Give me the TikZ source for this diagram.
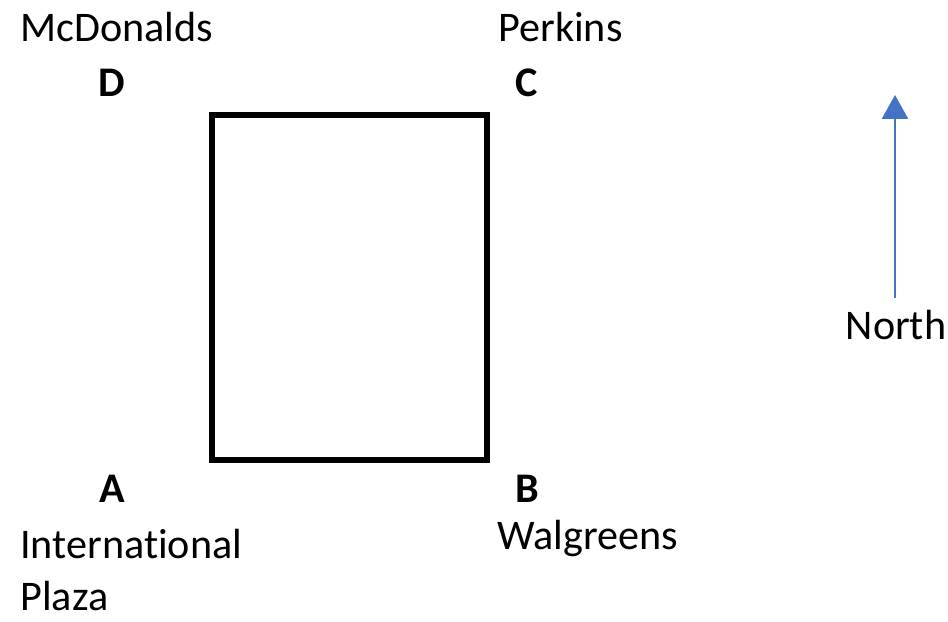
\documentclass[tikz,border=0pt]{standalone}
\usepackage{fontspec}
\setmainfont{Carlito}[RawFeature=-liga]
\usetikzlibrary{arrows.meta,positioning}
\definecolor{arrowblue}{RGB}{68,114,196}

\begin{document}
\begin{tikzpicture}[
  every node/.style={font=\fontsize{24}{30.7}\selectfont, inner sep=0pt},
  corner/.style={font=\fontsize{24}{30.7}\selectfont\bfseries, anchor=base},
  place/.style={anchor=base west},
  >={Triangle[width=0.52cm,length=0.48cm]}
]
\useasboundingbox (0,0) rectangle (18.96,12.44);

% the block
\coordinate (sw) at (4.24,3.24);
\coordinate (ne) at (9.74,10.14);
\draw[line width=0.12cm, line join=miter] (sw) rectangle (ne);

% corners
\node[corner] (d) at (2.24,10.50) {D};
\node[corner] (c) at (10.54,10.50) {C};
\node[corner] (a) at (2.24,2.38) {A};
\node[corner] (b) at (10.54,2.38) {B};

% places
\node[place] (mcd) at (0.40,11.60) {McDonalds};
\node[place] (perkins) at (9.96,11.60) {Perkins};
\node[place] (intl) at (0.40,1.26) {International};
\node[place] (plaza) at (0.40,0.22) {Plaza};
\node[place] (walg) at (9.94,1.44) {Walgreens};

% compass
\node[anchor=base, inner ysep=0.24cm] (north) at (17.92,5.64) {North};
\coordinate (tip) at (17.90,10.54);
\draw[->, arrowblue, line width=0.05cm] (north.north -| tip) -- (tip);

\end{tikzpicture}
\end{document}
